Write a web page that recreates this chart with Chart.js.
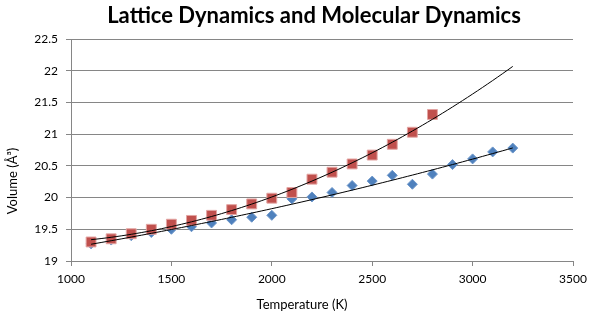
<!DOCTYPE html>
<html>
<head>
<meta charset="utf-8">
<script src="https://cdn.jsdelivr.net/npm/chart.js@4.4.0/dist/chart.umd.min.js"></script>
<style>
  html, body { margin: 0; padding: 0; background: #fff; }
  #wrap { width: 597px; height: 329px; }
</style>
</head>
<body>
<div id="wrap"><canvas id="volChart"></canvas></div>
<script>
// molecular dynamics run (blue diamonds)
const mdTemps = [1100, 1200, 1300, 1400, 1500, 1600, 1700, 1800, 1900, 2000, 2100,
                 2200, 2300, 2400, 2500, 2600, 2700, 2800, 2900, 3000, 3100, 3200];
const mdVolumes = [19.27, 19.33, 19.40, 19.45, 19.50, 19.54, 19.60, 19.65, 19.69, 19.72, 19.98,
                   20.01, 20.08, 20.19, 20.26, 20.35, 20.21, 20.37, 20.52, 20.61, 20.72, 20.78];

// lattice dynamics (red squares)
const ldTemps = [1100, 1200, 1300, 1400, 1500, 1600, 1700, 1800, 1900, 2000, 2100,
                 2200, 2300, 2400, 2500, 2600, 2700, 2800];
const ldVolumes = [19.30, 19.35, 19.43, 19.50, 19.58, 19.64, 19.72, 19.81, 19.90, 19.99, 20.08,
                   20.29, 20.40, 20.53, 20.67, 20.84, 21.03, 21.31];

// trendlines run out to this temperature
const trendEnd = 3200;

// 2nd order least squares polynomial, like the spreadsheet trendline
function polyFit2(xs, ys) {
  const x0 = 2000; // centre x to keep the sums well conditioned
  let s = [0, 0, 0, 0, 0], t = [0, 0, 0];
  xs.forEach((x, i) => {
    const u = (x - x0) / 1000;
    for (let k = 0; k <= 4; k++) s[k] += Math.pow(u, k);
    for (let k = 0; k <= 2; k++) t[k] += ys[i] * Math.pow(u, k);
  });
  const m = [[s[0], s[1], s[2], t[0]], [s[1], s[2], s[3], t[1]], [s[2], s[3], s[4], t[2]]];
  for (let c = 0; c < 3; c++) {
    for (let r = c + 1; r < 3; r++) {
      const f = m[r][c] / m[c][c];
      for (let k = c; k < 4; k++) m[r][k] -= f * m[c][k];
    }
  }
  const a = [0, 0, 0];
  for (let r = 2; r >= 0; r--) {
    let v = m[r][3];
    for (let k = r + 1; k < 3; k++) v -= m[r][k] * a[k];
    a[r] = v / m[r][r];
  }
  return x => { const u = (x - x0) / 1000; return a[0] + a[1] * u + a[2] * u * u; };
}

function trendPoints(xs, ys) {
  const f = polyFit2(xs, ys);
  const pts = [];
  for (let x = xs[0]; x <= trendEnd; x += 25) pts.push({ x: x, y: f(x) });
  return pts;
}

const toPoints = (xs, ys) => xs.map((x, i) => ({ x: x, y: ys[i] }));

const FONT = 'Lato, "Open Sans", sans-serif';
const GRID = '#868686';

// title and axis titles sit where the spreadsheet put them, slightly off centre
const chartTexts = {
  id: 'chartTexts',
  afterDraw(chart) {
    const ctx = chart.ctx;
    ctx.save();
    ctx.fillStyle = '#000';
    ctx.textAlign = 'center';
    ctx.textBaseline = 'alphabetic';
    ctx.font = 'bold 22px ' + FONT;
    ctx.fillText('Lattice Dynamics and Molecular Dynamics', 314, 23);
    ctx.textBaseline = 'middle';
    ctx.font = '13px ' + FONT;
    ctx.fillText('Temperature (K)', 302, 305);
    ctx.translate(13, 181);
    ctx.rotate(-Math.PI / 2);
    ctx.fillText('Volume (Å³)', 0, 0);
    ctx.restore();
  }
};

new Chart(document.getElementById('volChart'), {
  type: 'scatter',
  data: {
    datasets: [
      {
        label: 'LD trend',
        data: trendPoints(ldTemps, ldVolumes),
        showLine: true,
        borderColor: '#000',
        borderWidth: 1,
        pointRadius: 0,
        tension: 0
      },
      {
        label: 'MD trend',
        data: trendPoints(mdTemps, mdVolumes),
        showLine: true,
        borderColor: '#000',
        borderWidth: 1,
        pointRadius: 0,
        tension: 0
      },
      {
        label: 'Lattice Dynamics',
        data: toPoints(ldTemps, ldVolumes),
        pointStyle: 'rect',
        pointRadius: 7,
        backgroundColor: '#C0504D',
        borderColor: '#E3A5A3',
        borderWidth: 1
      },
      {
        label: 'Molecular Dynamics',
        data: toPoints(mdTemps, mdVolumes),
        pointStyle: 'rectRot',
        pointRadius: 5,
        backgroundColor: '#4F81BD',
        borderColor: '#6B95C9',
        borderWidth: 1
      }
    ]
  },
  options: {
    responsive: true,
    maintainAspectRatio: false,
    animation: false,
    events: [],
    layout: { padding: { left: 0, right: 24, top: 39, bottom: 0 } },
    plugins: {
      legend: { display: false },
      tooltip: { enabled: false },
      title: { display: false }
    },
    scales: {
      x: {
        type: 'linear',
        min: 1000,
        max: 3500,
        ticks: {
          stepSize: 500, color: '#000', padding: 6, font: { family: FONT, size: 12 },
          callback: v => String(v)
        },
        grid: { drawOnChartArea: false, drawTicks: true, tickLength: 5, color: GRID },
        border: { display: true, color: GRID },
        afterFit(scale) { scale.height = 68; }
      },
      y: {
        type: 'linear',
        min: 19,
        max: 22.5,
        ticks: {
          stepSize: 0.5, color: '#000', padding: 8, font: { family: FONT, size: 12 },
          callback: v => String(v)
        },
        grid: { color: GRID, tickLength: 5 },
        border: { display: true, color: GRID },
        afterFit(scale) { scale.width = 71; }
      }
    }
  },
  plugins: [chartTexts]
});
</script>
</body>
</html>
